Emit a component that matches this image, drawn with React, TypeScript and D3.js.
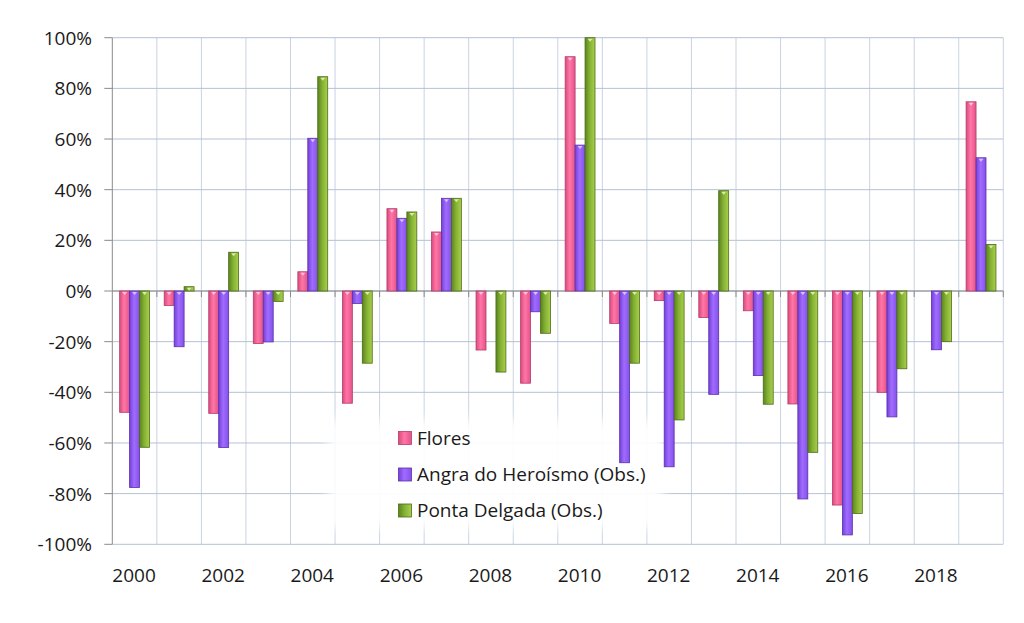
import React from "react";
import * as d3 from "d3";

const years = ["2000","2001","2002","2003","2004","2005","2006","2007","2008","2009","2010","2011","2012","2013","2014","2015","2016","2017","2018","2019"];
const yearLabels = ["2000","2002","2004","2006","2008","2010","2012","2014","2016","2018"];
const seriesNames = ["Flores", "Angra do Heroísmo (Obs.)", "Ponta Delgada (Obs.)"];
const flores = [-47.9, -5.7, -48.3, -20.7, 7.6, -44.3, 32.5, 23.3, -23.3, -36.4, 92.5, -12.8, -3.8, -10.5, -7.8, -44.6, -84.5, -40.0, null, 74.7];
const angra = [-77.6, -22.0, -61.8, -20.1, 60.3, -4.9, 28.7, 36.6, null, -8.2, 57.6, -67.8, -69.4, -40.8, -33.4, -82.1, -96.3, -49.7, -23.2, 52.6];
const ponta = [-61.7, 1.7, 15.3, -4.1, 84.6, -28.5, 31.2, 36.6, -32.0, -16.7, 100, -28.5, -50.9, 39.6, -44.7, -63.7, -87.8, -30.7, -20.0, 18.4];
const yTicks = [100, 80, 60, 40, 20, 0, -20, -40, -60, -80, -100];

const seriesValues = [flores, angra, ponta];
const gradStops = [
  [["0", "#d94a7e"], ["0.45", "#ff76a6"], ["1", "#e4538a"]],
  [["0", "#7440d6"], ["0.45", "#a06cff"], ["1", "#8450e8"]],
  [["0", "#5a841d"], ["0.45", "#84b034"], ["1", "#a9d04b"]],
];
const strokeCols = ["#b43c6a", "#5a30b0", "#4c6c18"];
const hiCols = ["#ffd0e0", "#e0d0ff", "#eaf5c0"];

const FONT = "'Open Sans', sans-serif";

export default function App() {
  const left = 112.3, right = 1003.3, top = 37.7, bottom = 544.3;
  const x = d3.scaleBand<string>().domain(years).range([left, right]).padding(0);
  const y = d3.scaleLinear().domain([-100, 100]).range([bottom, top]);
  const step = x.step();
  const gap = step * 0.33;
  const xi = d3.scaleBand<number>().domain([0, 1, 2]).range([gap / 2, step - gap / 2]).padding(0);
  const bw = xi.bandwidth();
  const y0 = y(0);

  const bars: React.ReactNode[] = [];
  seriesValues.forEach((vals, si) => {
    vals.forEach((v, i) => {
      if (v === null || v === undefined) return;
      const bx = (x(years[i]) as number) + (xi(si) as number);
      const yTop = Math.min(y(v), y0);
      const h = Math.abs(y(v) - y0);
      const triW = bw * 0.5;
      const cx = bx + bw / 2;
      bars.push(
        <g key={`b-${si}-${i}`}>
          <rect x={bx} y={yTop} width={bw} height={h} fill={`url(#g${si})`} stroke={strokeCols[si]} strokeWidth={0.8} />
          {h > 4 && (
            <path d={`M${cx - triW / 2},${yTop + 1} L${cx + triW / 2},${yTop + 1} L${cx},${yTop + 4} Z`} fill={hiCols[si]} opacity={0.85} />
          )}
        </g>
      );
    });
  });

  const legendY = [438, 474.5, 510.5];

  return (
    <svg width={1024} height={623} style={{ position: "absolute", left: 0, top: 0, background: "#fff" }} fontFamily={FONT}>
      <defs>
        {gradStops.map((stops, si) => (
          <linearGradient key={si} id={`g${si}`} x1="0" x2="1" y1="0" y2="0">
            {stops.map(([o, c], k) => (
              <stop key={k} offset={o} stopColor={c} />
            ))}
          </linearGradient>
        ))}
        <filter id="blur" x="-20%" y="-30%" width="140%" height="160%">
          <feGaussianBlur stdDeviation="6" />
        </filter>
      </defs>
      <rect x={0} y={0} width={1024} height={623} fill="#fff" />
      {/* vertical gridlines */}
      {years.map((yr) => (
        <line key={`v-${yr}`} x1={(x(yr) as number) + step} x2={(x(yr) as number) + step} y1={top} y2={bottom} stroke="#c9d3e0" strokeWidth={1} />
      ))}
      {/* horizontal gridlines */}
      {yTicks.map((t) => (
        <line key={`h-${t}`} x1={left} x2={right} y1={y(t)} y2={y(t)} stroke="#b4c2d4" strokeWidth={1} />
      ))}
      {/* legend background */}
      <rect x={328} y={420} width={335} height={108} fill="#fff" opacity={0.95} filter="url(#blur)" />
      {/* y axis */}
      <line x1={left} x2={left} y1={top} y2={bottom} stroke="#8a8a8a" strokeWidth={1} />
      {yTicks.map((t) => (
        <g key={`yt-${t}`}>
          <line x1={left - 8} x2={left} y1={y(t)} y2={y(t)} stroke="#8a8a8a" strokeWidth={1} />
          <text x={92} y={y(t) + 7} textAnchor="end" fontSize={19} fill="#1a1a1a">{`${t}%`}</text>
        </g>
      ))}
      {/* x axis at zero */}
      <line x1={left} x2={right} y1={y0} y2={y0} stroke="#8a8a8a" strokeWidth={1} />
      {years.map((yr) => (
        <line key={`xt-${yr}`} x1={(x(yr) as number) + step} x2={(x(yr) as number) + step} y1={y0} y2={y0 + 6} stroke="#8a8a8a" strokeWidth={1} />
      ))}
      {bars}
      {/* x labels */}
      {yearLabels.map((yr) => (
        <text key={`xl-${yr}`} x={(x(yr) as number) + step / 2 - 0.5} y={582} textAnchor="middle" fontSize={19} fill="#1a1a1a">{yr}</text>
      ))}
      {/* legend */}
      {seriesNames.map((name, si) => (
        <g key={`lg-${si}`}>
          <rect x={398.5} y={legendY[si] - 6.5} width={13} height={13} fill={`url(#g${si})`} stroke={strokeCols[si]} strokeWidth={0.8} />
          <text x={417} y={legendY[si] + 6.5} fontSize={19} fill="#1a1a1a">{name}</text>
        </g>
      ))}
    </svg>
  );
}
